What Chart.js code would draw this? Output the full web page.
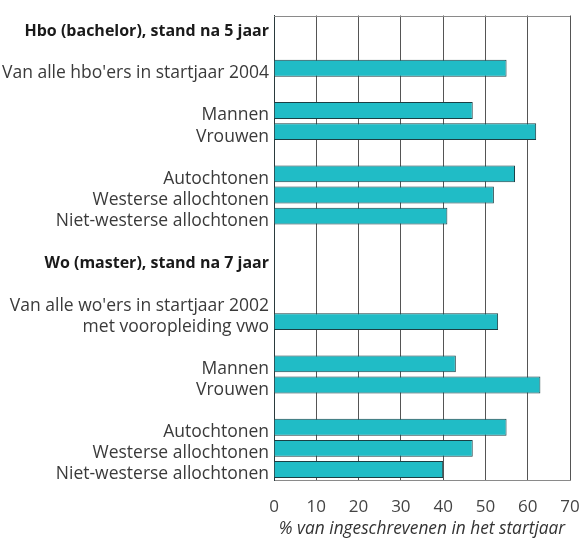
<!DOCTYPE html>
<html>
<head>
<meta charset="utf-8">
<script src="https://cdn.jsdelivr.net/npm/chart.js@4"></script>
<style>
  html, body { margin: 0; padding: 0; background: #fff; }
  #wrap { width: 581px; height: 538px; }
</style>
</head>
<body>
<div id="wrap"><canvas id="grafiek"></canvas></div>
<script>
// Rijen van boven naar beneden (lege rijen houden de groepen uit elkaar)
const rijen = [
  'Hbo (bachelor), stand na 5 jaar',
  '',
  "Van alle hbo'ers in startjaar 2004",
  '',
  'Mannen',
  'Vrouwen',
  '',
  'Autochtonen',
  'Westerse allochtonen',
  'Niet-westerse allochtonen',
  '',
  'Wo (master), stand na 7 jaar',
  '',
  "Van alle wo'ers in startjaar 2002",
  'met vooropleiding vwo',
  '',
  'Mannen',
  'Vrouwen',
  '',
  'Autochtonen',
  'Westerse allochtonen',
  'Niet-westerse allochtonen'
];

// Percentages per rij (null = geen balk)
const hboWaarden = [null, null, 55, null, 47, 62, null, 57, 52, 41, null];
const woWaarden  = [null, null, null, 53, null, 43, 63, null, 55, 47, 40];

const kopRijen = [0, 11];
const xTicks = [0, 10, 20, 30, 40, 50, 60, 70];
const asTitel = '% van ingeschrevenen in het startjaar';

const waarden = hboWaarden.concat(woWaarden);

// Bovenrand van het plotvlak
const kader = {
  id: 'kader',
  afterDatasetsDraw(chart) {
    const { ctx, chartArea } = chart;
    ctx.save();
    ctx.strokeStyle = '#8a8a8a';
    ctx.lineWidth = 1;
    ctx.beginPath();
    ctx.moveTo(chartArea.left, Math.round(chartArea.top) + 0.5);
    ctx.lineTo(chartArea.right, Math.round(chartArea.top) + 0.5);
    ctx.stroke();
    ctx.restore();
  }
};

const ctx = document.getElementById('grafiek').getContext('2d');
new Chart(ctx, {
  type: 'bar',
  data: {
    labels: rijen,
    datasets: [{
      data: waarden,
      backgroundColor: '#20bcc6',
      borderColor: '#1b3f44',
      borderWidth: 1,
      barPercentage: 0.8,
      categoryPercentage: 1
    }]
  },
  options: {
    indexAxis: 'y',
    responsive: true,
    maintainAspectRatio: false,
    animation: false,
    layout: { padding: { top: 12, right: 11, left: 0, bottom: 0 } },
    plugins: {
      legend: { display: false },
      tooltip: { enabled: false }
    },
    scales: {
      x: {
        min: 0,
        max: 70,
        afterBuildTicks: (as) => { as.ticks = xTicks.map(v => ({ value: v })); },
        afterFit: (as) => {
          as.height = 58;
          // labels mogen buiten het plotvlak uitsteken
          as.paddingLeft = 0;
          as.paddingRight = 0;
        },
        grid: { color: '#555', lineWidth: 1, drawTicks: false },
        border: { color: '#8a8a8a' },
        ticks: {
          padding: 17,
          color: '#444',
          font: { family: 'Open Sans', size: 17 }
        },
        title: {
          display: true,
          text: asTitel,
          color: '#333',
          padding: { top: 0, bottom: -1 },
          font: { family: 'Open Sans', size: 17.3, style: 'italic' }
        }
      },
      y: {
        afterFit: (as) => { as.width = 274; },
        grid: { display: false, drawTicks: false },
        border: { color: '#2a3a3c' },
        ticks: {
          autoSkip: false,
          padding: 5,
          labelOffset: 5,
          color: (c) => kopRijen.includes(c.index) ? '#1a1a1a' : '#3a3a3a',
          font: (c) => kopRijen.includes(c.index)
            ? { family: 'Open Sans', size: 16, weight: 'bold' }
            : { family: 'Open Sans', size: 17.5, weight: 'normal' }
        }
      }
    }
  },
  plugins: [kader]
});
</script>
</body>
</html>
